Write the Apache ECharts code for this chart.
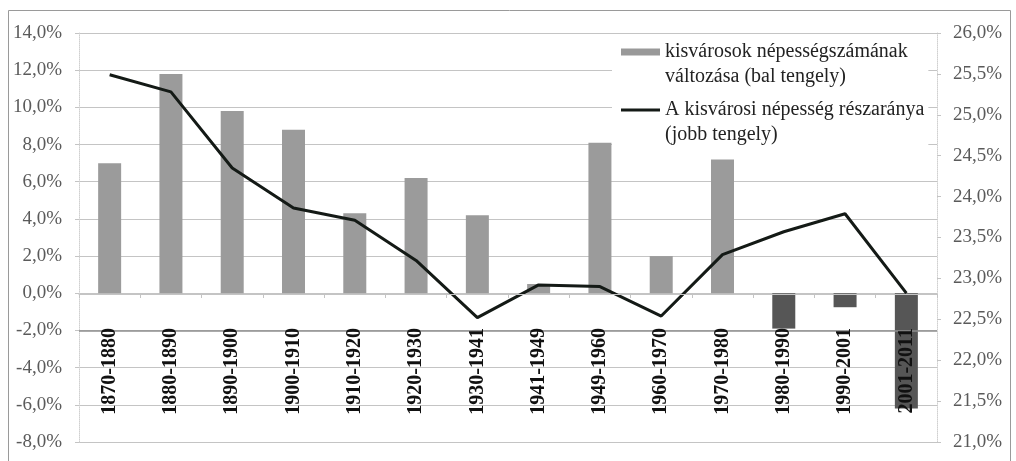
<!DOCTYPE html>
<html>
<head>
<meta charset="utf-8">
<script src="https://cdn.jsdelivr.net/npm/echarts@6/dist/echarts.min.js"></script>
<style>html,body{margin:0;padding:0;background:#fff;}#c{width:1016px;height:461px;}</style>
</head>
<body>
<div id="c"></div>
<script>
const categories = ['1870-1880','1880-1890','1890-1900','1900-1910','1910-1920','1920-1930','1930-1941','1941-1949','1949-1960','1960-1970','1970-1980','1980-1990','1990-2001','2001-2011'];
const popChange = [7.0, 11.8, 9.8, 8.8, 4.3, 6.2, 4.2, 0.5, 8.1, 2.0, 7.2, -1.9, -0.75, -6.2];
const popShare = [25.49, 25.28, 24.35, 23.86, 23.71, 23.22, 22.52, 22.92, 22.9, 22.54, 23.29, 23.57, 23.79, 22.82];
const barName = 'kisvárosok népességszámának\nváltozása (bal tengely)';
const lineName = 'A kisvárosi népesség részaránya\n(jobb tengely)';

const fmt = v => v.toFixed(1).replace('.', ',') + '%';
const serif = '"Liberation Serif","DejaVu Serif",serif';

const chart = echarts.init(document.getElementById('c'));
chart.setOption({
  animation: false,
  backgroundColor: '#fff',
  grid: { left: 79, right: 79, top: 33, bottom: 19, containLabel: false, outerBoundsMode: 'none' },
  graphic: [{
    type: 'rect', shape: { x: 8.5, y: 10.5, width: 1002, height: 470 },
    style: { fill: 'none', stroke: '#9a9a9a', lineWidth: 1 }, silent: true, z: -10
  }],
  legend: {
    orient: 'vertical',
    left: 612, top: 37.5,
    itemWidth: 39, itemHeight: 50,
    itemGap: 8,
    backgroundColor: '#fff',
    padding: [2, 4, 2, 9],
    textStyle: { fontFamily: serif, fontSize: 20, color: '#222', lineHeight: 25 },
    data: [
      { name: barName, icon: 'path://M0,0M39,50M0,9H39V16H0Z', itemStyle: { color: '#999' } },
      { name: lineName, icon: 'path://M0,0M39,50M0,11H39V14H0Z', itemStyle: { color: '#141a16' } }
    ]
  },
  xAxis: {
    type: 'category',
    data: categories,
    z: 10,
    offset: -148,
    axisLine: { onZero: false, lineStyle: { color: '#c4c4c4', width: 1 } },
    axisTick: { show: true, length: 4, lineStyle: { color: '#c4c4c4' } },
    axisLabel: {
      rotate: 90, margin: 34, interval: 0,
      fontFamily: serif, fontSize: 20, fontWeight: 'bold', color: '#111'
    },
    splitLine: { show: false }
  },
  yAxis: [{
    type: 'value', min: -8, max: 14, interval: 2,
    axisLine: { show: true, lineStyle: { color: '#d0d0d0', type: 'dotted' } },
    axisTick: { show: true, length: 4, lineStyle: { color: '#c4c4c4' } },
    axisLabel: { formatter: fmt, margin: 17, fontFamily: serif, fontSize: 19, color: '#5a5a5a' },
    splitLine: { show: true, lineStyle: { color: '#c4c4c4', width: 1 } }
  }, {
    type: 'value', min: 21, max: 26, interval: 0.5,
    axisLine: { show: true, lineStyle: { color: '#d0d0d0', type: 'dotted' } },
    axisTick: { show: true, length: 4, lineStyle: { color: '#c4c4c4' } },
    axisLabel: { formatter: fmt, margin: 16, fontFamily: serif, fontSize: 19, color: '#5a5a5a' },
    splitLine: { show: false }
  }],
  series: [{
    name: barName,
    type: 'bar',
    yAxisIndex: 0,
    barWidth: 23,
    data: popChange.map(v => ({ value: v, itemStyle: { color: v < 0 ? '#565656' : '#9b9b9b' } })),
    markLine: {
      silent: true, symbol: 'none', label: { show: false },
      lineStyle: { color: '#8f8f8f', type: 'solid', width: 1.5 },
      data: [{ yAxis: -2 }]
    }
  }, {
    name: lineName,
    type: 'line',
    yAxisIndex: 1,
    data: popShare,
    symbol: 'none',
    showSymbol: false,
    lineStyle: { color: '#141a16', width: 3 },
    itemStyle: { color: '#141a16' },
    z: 5
  }]
});
</script>
</body>
</html>
